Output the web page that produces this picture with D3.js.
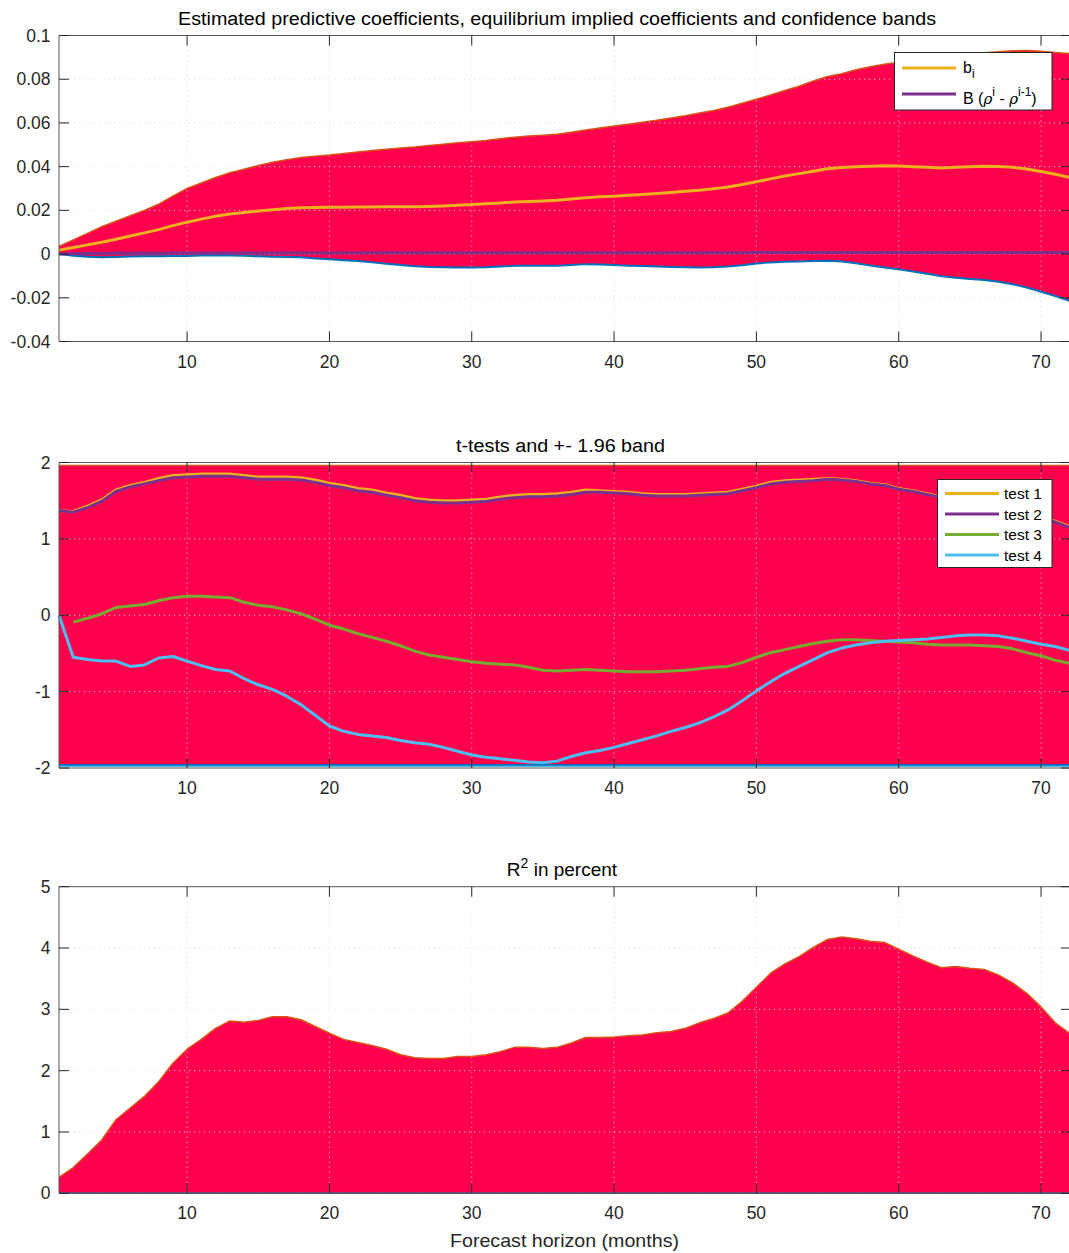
<!DOCTYPE html>
<html><head><meta charset="utf-8">
<script src="https://cdn.jsdelivr.net/npm/d3@7"></script>
<style>body{margin:0;background:#fff}svg{display:block;font-family:"Liberation Sans",Arial,Helvetica,sans-serif}</style>
</head><body>
<script>
// ---------- DATA ----------
const horizon = d3.range(1, 73); // forecast horizons 1..72 months

const upperBand = [0.0035,0.0065,0.0095,0.0125,0.015,0.0175,0.020,0.0228,0.0265,0.030,0.0325,0.035,0.0372,0.0388,0.0405,0.042,0.0432,0.0442,0.0448,0.0453,0.046,0.0467,0.0474,0.048,0.0485,0.049,0.0497,0.0503,0.0509,0.0514,0.052,0.0528,0.0535,0.054,0.0544,0.0548,0.0557,0.0568,0.0577,0.0586,0.0594,0.0603,0.0612,0.0623,0.0633,0.0645,0.0657,0.0672,0.069,0.0708,0.0728,0.0748,0.0768,0.0792,0.0812,0.0825,0.0843,0.0857,0.0868,0.0878,0.0887,0.0895,0.0902,0.091,0.0916,0.0921,0.0926,0.093,0.0931,0.0928,0.0922,0.0918];
const lowerBand = [0.0,-0.0008,-0.0012,-0.0015,-0.0013,-0.0011,-0.001,-0.001,-0.0009,-0.0009,-0.0007,-0.0006,-0.0006,-0.0008,-0.001,-0.0012,-0.0013,-0.0015,-0.002,-0.0024,-0.0028,-0.0032,-0.0038,-0.0044,-0.005,-0.0056,-0.0059,-0.006,-0.0061,-0.0061,-0.006,-0.0057,-0.0054,-0.0053,-0.0053,-0.0053,-0.005,-0.0046,-0.0048,-0.005,-0.0053,-0.0055,-0.0057,-0.0059,-0.006,-0.0061,-0.006,-0.0057,-0.0051,-0.0043,-0.0038,-0.0035,-0.0034,-0.0032,-0.0031,-0.0034,-0.0042,-0.0052,-0.0061,-0.007,-0.008,-0.009,-0.0101,-0.0108,-0.0114,-0.0119,-0.0127,-0.0138,-0.0153,-0.0172,-0.0192,-0.0214];
const bi = [0.0018,0.003,0.0042,0.0054,0.0068,0.0083,0.0097,0.0112,0.013,0.0146,0.016,0.0173,0.0183,0.019,0.0197,0.0203,0.0208,0.0212,0.0213,0.0214,0.0214,0.0215,0.0215,0.0216,0.0216,0.0217,0.0218,0.022,0.0223,0.0227,0.023,0.0234,0.0238,0.0241,0.0243,0.0246,0.0252,0.0258,0.0262,0.0265,0.0269,0.0273,0.0277,0.0282,0.0287,0.0292,0.0299,0.0307,0.0318,0.0331,0.0344,0.0357,0.0368,0.0379,0.039,0.0396,0.04,0.0402,0.0404,0.0403,0.04,0.0397,0.0394,0.0397,0.04,0.0402,0.0401,0.0397,0.0389,0.0378,0.0365,0.0351];
const Bimplied = [0.0,0.0002,0.0003,0.0003,0.0004,0.0004,0.0004,0.0004,0.0005,0.0005,0.0005,0.0005,0.0005,0.0005,0.0005,0.0005,0.0005,0.0005,0.0005,0.0005,0.0005,0.0005,0.0006,0.0006,0.0006,0.0006,0.0006,0.0006,0.0006,0.0006,0.0006,0.0006,0.0006,0.0006,0.0006,0.0006,0.0006,0.0006,0.0006,0.0006,0.0006,0.0006,0.0006,0.0006,0.0006,0.0006,0.0006,0.0006,0.0006,0.0007,0.0007,0.0007,0.0007,0.0007,0.0007,0.0007,0.0007,0.0007,0.0007,0.0007,0.0007,0.0007,0.0007,0.0007,0.0007,0.0007,0.0007,0.0007,0.0007,0.0007,0.0007,0.0007];

const tBand = 1.96;
const test2 = [1.37,1.35,1.41,1.49,1.62,1.68,1.72,1.76,1.80,1.81,1.82,1.82,1.82,1.80,1.78,1.78,1.78,1.77,1.74,1.70,1.67,1.63,1.61,1.57,1.54,1.50,1.48,1.47,1.47,1.48,1.49,1.52,1.54,1.55,1.55,1.56,1.58,1.61,1.61,1.60,1.59,1.57,1.56,1.56,1.56,1.57,1.58,1.59,1.63,1.67,1.72,1.74,1.75,1.76,1.78,1.77,1.75,1.72,1.70,1.65,1.62,1.58,1.54,1.50,1.46,1.42,1.38,1.34,1.31,1.27,1.22,1.15];
const test1 = [1.37,1.36,1.43,1.51,1.64,1.70,1.74,1.79,1.83,1.84,1.85,1.85,1.85,1.83,1.81,1.81,1.81,1.80,1.77,1.73,1.70,1.66,1.64,1.60,1.57,1.53,1.51,1.50,1.50,1.51,1.52,1.55,1.57,1.58,1.58,1.59,1.61,1.64,1.63,1.62,1.61,1.59,1.58,1.58,1.58,1.59,1.60,1.61,1.65,1.69,1.74,1.76,1.77,1.78,1.79,1.78,1.76,1.73,1.71,1.66,1.63,1.59,1.55,1.51,1.47,1.43,1.39,1.35,1.32,1.28,1.23,1.16];
const test3 = [null,-0.09,-0.04,0.02,0.10,0.12,0.14,0.19,0.23,0.25,0.25,0.24,0.23,0.17,0.13,0.11,0.07,0.02,-0.05,-0.13,-0.18,-0.24,-0.29,-0.34,-0.40,-0.47,-0.52,-0.55,-0.58,-0.61,-0.63,-0.64,-0.65,-0.68,-0.72,-0.73,-0.72,-0.71,-0.72,-0.73,-0.74,-0.74,-0.74,-0.73,-0.72,-0.70,-0.68,-0.67,-0.62,-0.55,-0.49,-0.45,-0.41,-0.37,-0.34,-0.32,-0.32,-0.33,-0.34,-0.35,-0.36,-0.38,-0.39,-0.39,-0.39,-0.40,-0.41,-0.44,-0.49,-0.53,-0.59,-0.63];
const test4 = [0.00,-0.55,-0.58,-0.60,-0.60,-0.67,-0.65,-0.56,-0.54,-0.60,-0.66,-0.71,-0.73,-0.83,-0.91,-0.97,-1.06,-1.17,-1.31,-1.45,-1.52,-1.56,-1.58,-1.60,-1.64,-1.67,-1.69,-1.73,-1.78,-1.83,-1.86,-1.88,-1.90,-1.92,-1.93,-1.91,-1.85,-1.80,-1.77,-1.73,-1.68,-1.63,-1.58,-1.52,-1.47,-1.41,-1.33,-1.24,-1.12,-0.99,-0.87,-0.76,-0.67,-0.58,-0.49,-0.43,-0.39,-0.36,-0.34,-0.33,-0.32,-0.31,-0.29,-0.27,-0.26,-0.26,-0.27,-0.30,-0.34,-0.38,-0.41,-0.46];

const r2 = [0.26,0.42,0.64,0.87,1.20,1.39,1.58,1.82,2.12,2.35,2.51,2.69,2.81,2.79,2.82,2.88,2.88,2.83,2.72,2.61,2.51,2.46,2.41,2.35,2.26,2.21,2.20,2.20,2.23,2.23,2.26,2.31,2.38,2.38,2.36,2.38,2.45,2.54,2.54,2.55,2.57,2.58,2.62,2.64,2.69,2.78,2.85,2.94,3.13,3.36,3.59,3.74,3.86,4.01,4.14,4.18,4.15,4.11,4.09,3.98,3.87,3.77,3.68,3.70,3.67,3.65,3.56,3.43,3.26,3.04,2.78,2.61];

const xTicks = [10,20,30,40,50,60,70];
const yTicks1 = [-0.04,-0.02,0,0.02,0.04,0.06,0.08,0.1];
const yTicks2 = [-2,-1,0,1,2];
const yTicks3 = [0,1,2,3,4,5];
const legend1 = ["b", "B ("];
const legend2 = ["test 1","test 2","test 3","test 4"];

// ---------- STYLE ----------
const C = {fill:"#ff004d", orange:"#D95319", blue:"#0072BD", yellow:"#EDB120", purple:"#7E2F8E", green:"#77AC30", cyan:"#4DBEEE", axis:"#262626"};
const W = 1069, H = 1253;
const svg = d3.select("body").append("svg").attr("width", W).attr("height", H);
const x = d3.scaleLinear().domain([1,72]).range([59, 1069.5]);
const XR = 1071;
const TICKFS = 17.5;

function makePanel(top, bottom, ydom, yticks) {
  const y = d3.scaleLinear().domain(ydom).range([bottom, top]);
  const g = svg.append("g");
  const layers = {
    gridBack: g.append("g"),
    data: g.append("g"),
    gridFront: g.append("g"),
    lines: g.append("g"),
    axes: g.append("g")
  };
  const drawGrid = (sel, color, op) => {
    sel.selectAll(".vx").data(xTicks).join("line")
      .attr("x1", d => x(d)).attr("x2", d => x(d)).attr("y1", top).attr("y2", bottom)
      .attr("stroke", color).attr("stroke-opacity", op).attr("stroke-width", 1).attr("stroke-dasharray", "1.2,3.8");
    sel.selectAll(".hy").data(yticks).join("line")
      .attr("x1", 59).attr("x2", XR).attr("y1", d => y(d)).attr("y2", d => y(d))
      .attr("stroke", color).attr("stroke-opacity", op).attr("stroke-width", 1).attr("stroke-dasharray", "1.2,3.8");
  };
  drawGrid(layers.gridBack, "#d2d2d2", 1);
  layers.drawFrontGrid = () => drawGrid(layers.gridFront, "#ffffff", 0.75);
  const a = layers.axes;
  a.append("path").attr("d", `M${XR},${top}H59V${bottom}H${XR}`).attr("fill","none").attr("stroke","#555").attr("stroke-width",1);
  xTicks.forEach(t => {
    a.append("line").attr("x1",x(t)).attr("x2",x(t)).attr("y1",bottom).attr("y2",bottom-10).attr("stroke",C.axis);
    a.append("line").attr("x1",x(t)).attr("x2",x(t)).attr("y1",top).attr("y2",top+10).attr("stroke",C.axis);
    a.append("text").attr("x",x(t)).attr("y",bottom+26).attr("text-anchor","middle")
      .attr("font-size",TICKFS).attr("fill",C.axis).text(t);
  });
  yticks.forEach(t => {
    a.append("line").attr("x1",59).attr("x2",69).attr("y1",y(t)).attr("y2",y(t)).attr("stroke",C.axis);
    a.append("line").attr("x1",XR).attr("x2",XR-10).attr("y1",y(t)).attr("y2",y(t)).attr("stroke",C.axis);
    a.append("text").attr("x",50.5).attr("y",y(t)+6).attr("text-anchor","end")
      .attr("font-size",TICKFS).attr("fill",C.axis).text(String(t));
  });
  return {y, layers, top, bottom};
}

function addLine(layer, xs, ys, yScale, color, w) {
  const line = d3.line().defined((d,i) => ys[i] !== null).x((d) => x(d)).y((d,i) => yScale(ys[i]));
  layer.append("path").datum(xs).attr("d", line).attr("fill","none")
    .attr("stroke", color).attr("stroke-width", w).attr("stroke-linejoin","round");
}

// ---------- PANEL 1 ----------
const p1 = makePanel(35.5, 341.5, [-0.04, 0.1], yTicks1);
{
  const y = p1.y, L = p1.layers;
  const area = d3.area().x(d => x(d)).y0((d,i) => y(lowerBand[i])).y1((d,i) => y(upperBand[i]));
  L.data.append("path").datum(horizon).attr("d", area).attr("fill", C.fill);
  L.drawFrontGrid();
  addLine(L.lines, horizon, upperBand, y, C.orange, 1.5);
  addLine(L.lines, horizon, lowerBand, y, C.blue, 2);
  addLine(L.lines, horizon, bi, y, C.yellow, 3);
  addLine(L.lines, horizon, Bimplied, y, C.purple, 3);
  svg.append("text").attr("x",557).attr("y",24.5).attr("text-anchor","middle").attr("font-size",18).attr("fill","#000")
    .attr("textLength",758).attr("lengthAdjust","spacingAndGlyphs")
    .text("Estimated predictive coefficients, equilibrium implied coefficients and confidence bands");
  const lg = svg.append("g");
  lg.append("rect").attr("x",894.5).attr("y",52.5).attr("width",157.5).attr("height",57.5).attr("fill","#fff").attr("stroke",C.axis).attr("stroke-width",1);
  lg.append("line").attr("x1",902).attr("x2",956).attr("y1",68).attr("y2",68).attr("stroke",C.yellow).attr("stroke-width",3);
  lg.append("line").attr("x1",902).attr("x2",956).attr("y1",94).attr("y2",94).attr("stroke",C.purple).attr("stroke-width",3);
  const t1 = lg.append("text").attr("x",963).attr("y",73).attr("font-size",16).attr("fill","#000");
  t1.append("tspan").text(legend1[0]);
  t1.append("tspan").attr("font-size",12).attr("dy",5).text("i");
  const t2 = lg.append("text").attr("x",963).attr("y",104).attr("font-size",16).attr("fill","#000");
  t2.append("tspan").text(legend1[1]);
  t2.append("tspan").attr("font-style","italic").attr("font-family","DejaVu Serif").attr("font-size",15).text("ρ");
  t2.append("tspan").attr("font-size",12).attr("dy",-8).text("i");
  t2.append("tspan").attr("dy",8).text(" - ");
  t2.append("tspan").attr("font-style","italic").attr("font-family","DejaVu Serif").attr("font-size",15).text("ρ");
  t2.append("tspan").attr("font-size",12).attr("dy",-8).text("i-1");
  t2.append("tspan").attr("dy",8).text(")");
}

// ---------- PANEL 2 ----------
const p2 = makePanel(462.5, 768, [-2, 2], yTicks2);
{
  const y = p2.y, L = p2.layers;
  const area = d3.area().x(d => x(d)).y0(() => y(-tBand)).y1(() => y(tBand));
  L.data.append("path").datum(horizon).attr("d", area).attr("fill", C.fill);
  L.drawFrontGrid();
  L.lines.append("line").attr("x1",x(1)).attr("x2",x(72)).attr("y1",y(tBand)).attr("y2",y(tBand)).attr("stroke",C.orange).attr("stroke-width",1.5);
  L.lines.append("line").attr("x1",x(1)).attr("x2",x(72)).attr("y1",y(-tBand)).attr("y2",y(-tBand)).attr("stroke",C.blue).attr("stroke-width",2);
  L.lines.append("line").attr("x1",x(1)).attr("x2",x(72)).attr("y1",y(-tBand)+1.5).attr("y2",y(-tBand)+1.5).attr("stroke",C.cyan).attr("stroke-width",1.2);
  addLine(L.lines, horizon, test1, y, C.yellow, 3);
  addLine(L.lines, horizon, test2, y, C.purple, 3);
  addLine(L.lines, horizon, test3, y, C.green, 3);
  addLine(L.lines, horizon, test4, y, C.cyan, 3);
  svg.append("text").attr("x",560.5).attr("y",451.5).attr("text-anchor","middle").attr("font-size",18).attr("fill","#000")
    .attr("textLength",209).attr("lengthAdjust","spacingAndGlyphs")
    .text("t-tests and +- 1.96 band");
  const lg = svg.append("g");
  lg.append("rect").attr("x",937.5).attr("y",479.5).attr("width",114.5).attr("height",88).attr("fill","#fff").attr("stroke",C.axis).attr("stroke-width",1);
  const cols = [C.yellow, C.purple, C.green, C.cyan];
  legend2.forEach((s,i) => {
    const yy = 493.5 + i*20.5;
    lg.append("line").attr("x1",945).attr("x2",999).attr("y1",yy).attr("y2",yy).attr("stroke",cols[i]).attr("stroke-width",3);
    lg.append("text").attr("x",1004).attr("y",yy+5.5).attr("font-size",15.5).attr("fill","#000").text(s);
  });
}

// ---------- PANEL 3 ----------
const p3 = makePanel(886.7, 1193.3, [0, 5], yTicks3);
{
  const y = p3.y, L = p3.layers;
  const area = d3.area().x(d => x(d)).y0(() => y(0)).y1((d,i) => y(r2[i]));
  L.data.append("path").datum(horizon).attr("d", area).attr("fill", C.fill);
  L.drawFrontGrid();
  addLine(L.lines, horizon, r2, y, C.orange, 1.5);
  L.lines.append("line").attr("x1",x(1)).attr("x2",x(72)).attr("y1",y(0)).attr("y2",y(0)).attr("stroke",C.blue).attr("stroke-width",1.5);
  const t = svg.append("text").attr("x",562).attr("y",876).attr("text-anchor","middle").attr("font-size",19).attr("fill","#000");
  t.append("tspan").text("R");
  t.append("tspan").attr("font-size",14).attr("dy",-8).text("2");
  t.append("tspan").attr("dy",8).text(" in percent");
  svg.append("text").attr("x",564.5).attr("y",1246.5).attr("text-anchor","middle").attr("font-size",18.5).attr("fill",C.axis)
    .attr("textLength",229).attr("lengthAdjust","spacingAndGlyphs")
    .text("Forecast horizon (months)");
}
</script>
</body></html>
